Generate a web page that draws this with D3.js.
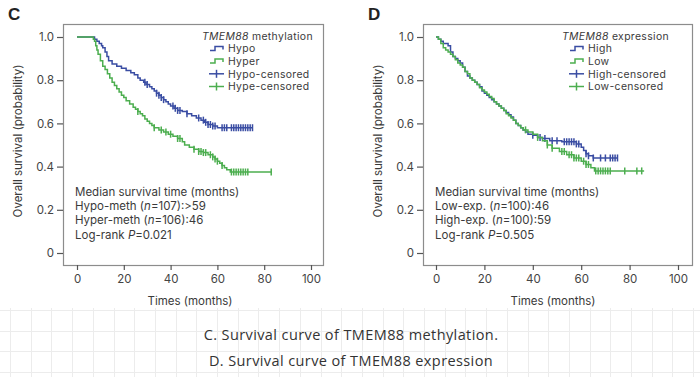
<!DOCTYPE html>
<html><head><meta charset="utf-8">
<script src="https://cdn.jsdelivr.net/npm/d3@7"></script>
<style>
html,body{margin:0;padding:0;background:#fff;}
svg{display:block;}
</style></head>
<body>
<svg id="chart" width="700" height="377"></svg>
<script>
// ---------- DATA ----------
const xTicks = [0, 20, 40, 60, 80, 100];
const yTicks = [0, 0.2, 0.4, 0.6, 0.8, 1.0];
const yTickLabels = ["0", "0.2", "0.4", "0.6", "0.8", "1.0"];

// Panel C: TMEM88 methylation
const hypoTimes = [0, 7.5, 8.5, 9.5, 10.5, 11, 12, 12.8, 13.5, 15, 17, 19, 21, 23, 24.5, 26, 27, 28.5, 29.5, 31, 32, 33, 34, 35, 36, 37, 38, 39, 40, 41.5, 43, 45, 47, 49, 51, 53, 54.5, 56, 58, 60];
const hypoSurv  = [1.0, 0.99, 0.98, 0.97, 0.96, 0.95, 0.93, 0.91, 0.89, 0.875, 0.865, 0.855, 0.845, 0.835, 0.825, 0.81, 0.80, 0.79, 0.78, 0.77, 0.76, 0.75, 0.74, 0.73, 0.72, 0.71, 0.70, 0.69, 0.68, 0.67, 0.66, 0.655, 0.645, 0.635, 0.625, 0.615, 0.605, 0.595, 0.588, 0.58];
const hypoEnd = 75;
const hypoCensored = [29, 30, 34, 35, 36, 37, 41, 42, 43, 44, 47, 52, 54, 55, 56, 57, 58, 59, 62, 63, 64, 66, 67, 68, 69, 70, 71, 72, 73, 74, 75];

const hyperTimes = [0, 7, 7.5, 8, 8.5, 9, 10, 11, 12, 13, 14, 15, 16, 17, 18, 19, 20, 21, 22.5, 24, 25, 26, 27, 28, 29, 30, 31, 32, 33, 35, 37, 39, 41, 43, 45, 46, 48, 50, 52, 54, 56, 58, 59, 60, 61, 62, 63, 64, 65.5];
const hyperSurv  = [1.0, 0.99, 0.98, 0.96, 0.94, 0.92, 0.89, 0.865, 0.85, 0.83, 0.81, 0.79, 0.775, 0.76, 0.745, 0.73, 0.72, 0.705, 0.69, 0.675, 0.665, 0.655, 0.645, 0.635, 0.62, 0.61, 0.60, 0.59, 0.58, 0.57, 0.56, 0.55, 0.54, 0.53, 0.515, 0.50, 0.49, 0.48, 0.47, 0.465, 0.455, 0.445, 0.435, 0.425, 0.415, 0.405, 0.395, 0.385, 0.375];
const hyperEnd = 83;
const hyperCensored = [26, 33, 36, 38, 40, 43, 44, 50, 52, 53, 54, 55, 57, 58, 59, 60, 62, 66, 67, 68, 69, 70, 71, 72, 73, 83];

// Panel D: TMEM88 expression
const highTimes = [0, 1, 2, 3, 5, 6, 7, 8, 9, 10, 11, 12, 13, 14, 15, 16, 17, 18, 19, 20, 21, 22, 23, 24, 25, 26, 27, 28, 29, 30, 31, 32, 33, 34, 35, 36, 37, 38, 40, 42, 44, 47, 52, 58, 60, 61, 62, 63, 65];
const highSurv  = [1.0, 0.99, 0.98, 0.97, 0.96, 0.93, 0.91, 0.90, 0.89, 0.88, 0.86, 0.84, 0.82, 0.81, 0.80, 0.79, 0.78, 0.77, 0.75, 0.74, 0.73, 0.72, 0.71, 0.70, 0.69, 0.68, 0.67, 0.66, 0.65, 0.64, 0.63, 0.615, 0.60, 0.59, 0.58, 0.57, 0.56, 0.55, 0.545, 0.535, 0.53, 0.52, 0.515, 0.505, 0.49, 0.475, 0.46, 0.45, 0.44];
const highEnd = 75;
const highCensored = [40, 43, 45, 48, 50, 53, 54, 55, 56, 57, 58, 59, 62, 63, 65, 68, 70, 72, 73, 74, 75];

const lowTimes = [0, 1, 2, 3, 4, 5, 6, 7, 8, 9, 10, 11, 12, 13, 14, 15, 16, 17, 18, 19, 20, 21, 22, 23, 24, 25, 26, 27, 28, 29, 30, 31, 32, 33, 34, 35, 36, 38, 40, 42, 44, 46, 48, 51, 54, 57, 60, 62, 64, 65.5];
const lowSurv  = [1.0, 0.99, 0.97, 0.95, 0.94, 0.93, 0.92, 0.91, 0.895, 0.88, 0.87, 0.86, 0.84, 0.83, 0.81, 0.80, 0.79, 0.78, 0.765, 0.755, 0.745, 0.735, 0.725, 0.715, 0.70, 0.69, 0.68, 0.67, 0.66, 0.645, 0.635, 0.625, 0.615, 0.60, 0.59, 0.58, 0.57, 0.56, 0.55, 0.535, 0.52, 0.50, 0.485, 0.47, 0.455, 0.44, 0.425, 0.41, 0.395, 0.38];
const lowEnd = 86;
const lowCensored = [37, 42, 46, 48, 52, 53, 55, 56, 57, 58, 59, 61, 62, 63, 66, 67, 68, 69, 70, 71, 72, 78, 83, 85];

const legendC = ["Hypo", "Hyper", "Hypo-censored", "Hype-censored"];
const legendD = ["High", "Low", "High-censored", "Low-censored"];
const notesC = ["Median survival time (months)", "Hypo-meth (|n|=107):>59", "Hyper-meth (|n|=106):46", "Log-rank |P|=0.021"];
const notesD = ["Median survival time (months)", "Low-exp. (|n|=100):46", "High-exp. (|n|=100):59", "Log-rank |P|=0.505"];
const captions = ["C. Survival curve of TMEM88 methylation.", "D. Survival curve of TMEM88 expression"];

// ---------- STYLE ----------
const BLUE = "#3a4da3", GREEN = "#4cae4f";
const FONT = "Inter, Lato, sans-serif";
const TXT = "#3a3a3a";

const svg = d3.select("#chart");

// faint notebook grid in lower area
const grid = svg.append("g").attr("stroke", "#ececec").attr("stroke-width", 1);
d3.range(10, 700, 20.7).forEach(x => grid.append("line").attr("x1", Math.round(x)+0.5).attr("x2", Math.round(x)+0.5).attr("y1", 308).attr("y2", 377));
d3.range(310, 377, 20.6).forEach(y => grid.append("line").attr("x1", 0).attr("x2", 700).attr("y1", Math.round(y)+0.5).attr("y2", Math.round(y)+0.5));

function stepValue(times, surv, t) {
  const i = d3.bisectRight(times, t) - 1;
  return surv[Math.max(0, i)];
}

function panel(opt) {
  const g = svg.append("g");
  const x = d3.scaleLinear().domain([0, 100]).range([opt.x0, opt.x100]);
  const y = d3.scaleLinear().domain([0, 1]).range([253, 37]);

  // frame
  g.append("rect").attr("x", opt.fl + 0.5).attr("y", 24.5).attr("width", opt.fr - opt.fl).attr("height", 265 - 24)
    .attr("fill", "none").attr("stroke", "#8c8c8c").attr("stroke-width", 1.2);

  // y axis
  const ya = g.append("g").attr("transform", `translate(${opt.fl},0)`)
    .call(d3.axisLeft(y).tickValues(yTicks).tickFormat((d, i) => yTickLabels[i]).tickSize(6).tickPadding(3));
  ya.select(".domain").remove();
  ya.selectAll("line").attr("stroke", "#555").attr("stroke-width", 1.2);
  ya.selectAll("text").attr("font-family", FONT).attr("font-size", 11.5).attr("fill", "#444");

  // x axis
  const xa = g.append("g").attr("transform", `translate(0,265)`)
    .call(d3.axisBottom(x).tickValues(xTicks).tickSize(5).tickPadding(5));
  xa.select(".domain").remove();
  xa.selectAll("line").attr("stroke", "#555").attr("stroke-width", 1.2);
  xa.selectAll("text").attr("font-family", FONT).attr("font-size", 11.5).attr("fill", "#444");

  // axis titles
  g.append("text").attr("x", (opt.x0 + opt.x100) / 2 - 4).attr("y", 305).attr("text-anchor", "middle")
    .attr("font-family", FONT).attr("font-size", 11.5).attr("fill", TXT).text("Times (months)");
  g.append("text").attr("transform", `translate(${opt.fl - 41},141) rotate(-90)`).attr("text-anchor", "middle")
    .attr("font-family", FONT).attr("font-size", 11.5).attr("fill", TXT).text("Overall survival (probability)");

  // panel letter
  g.append("text").attr("x", opt.fl - 55).attr("y", 20).attr("font-family", "'Liberation Sans', Arial, sans-serif")
    .attr("font-weight", "bold").attr("font-size", 17).attr("fill", "#222").text(opt.letter);

  // curves
  const line = d3.line().x(d => x(d[0])).y(d => y(d[1])).curve(d3.curveStepAfter);
  opt.series.forEach(s => {
    const pts = s.times.map((t, i) => [t, s.surv[i]]);
    pts.push([s.end, s.surv[s.surv.length - 1]]);
    g.append("path").datum(pts).attr("d", line).attr("fill", "none").attr("stroke", s.color).attr("stroke-width", 1.5);
    g.append("g").selectAll("line").data(s.censored).join("line")
      .attr("x1", d => x(d)).attr("x2", d => x(d))
      .attr("y1", d => y(stepValue(s.times, s.surv, d)) - 3.5)
      .attr("y2", d => y(stepValue(s.times, s.surv, d)) + 3.5)
      .attr("stroke", s.color).attr("stroke-width", 1.5);
  });

  // legend
  const LFS = 10.4, LSP = 12.7;
  const lg = g.append("g");
  const lt = lg.append("text").attr("x", opt.lx - 8).attr("y", 39.5).attr("font-family", FONT).attr("font-size", LFS)
    .attr("letter-spacing", 0.35).attr("fill", TXT);
  lt.append("tspan").attr("font-style", "italic").text("TMEM88");
  lt.append("tspan").text(" " + opt.legendTitle);
  opt.legend.forEach((lab, i) => {
    const base = 39.5 + (i + 1) * LSP;
    const yy = base - 3.8;
    const col = i % 2 === 0 ? BLUE : GREEN;
    const gx = opt.lx;
    if (i < 2) {
      lg.append("path").attr("d", `M${gx},${yy + 2}H${gx + 5}V${yy - 2}H${gx + 13}V${yy + 1}`)
        .attr("fill", "none").attr("stroke", col).attr("stroke-width", 1.5);
    } else {
      lg.append("line").attr("x1", gx - 1).attr("x2", gx + 14).attr("y1", yy).attr("y2", yy).attr("stroke", col).attr("stroke-width", 1.5);
      lg.append("line").attr("x1", gx + 6.5).attr("x2", gx + 6.5).attr("y1", yy - 4).attr("y2", yy + 4).attr("stroke", col).attr("stroke-width", 1.5);
    }
    lg.append("text").attr("x", gx + 18).attr("y", base).attr("font-family", FONT).attr("font-size", LFS)
      .attr("letter-spacing", 0.35).attr("fill", TXT).text(lab);
  });

  // notes
  opt.notes.forEach((n, i) => {
    const t = g.append("text").attr("x", opt.fl + 12).attr("y", 196 + i * 14.2).attr("font-family", FONT).attr("font-size", 11.5).attr("fill", TXT);
    n.split("|").forEach((part, k) => {
      t.append("tspan").attr("font-style", k % 2 === 1 ? "italic" : null).text(part);
    });
  });
}

panel({
  letter: "C", fl: 63, fr: 323, x0: 77, x100: 311, lx: 210, legendTitle: "methylation",
  legend: legendC, notes: notesC,
  series: [
    {times: hypoTimes, surv: hypoSurv, end: hypoEnd, censored: hypoCensored, color: BLUE},
    {times: hyperTimes, surv: hyperSurv, end: hyperEnd, censored: hyperCensored, color: GREEN}
  ]
});
panel({
  letter: "D", fl: 423, fr: 692, x0: 436, x100: 678, lx: 570, legendTitle: "expression",
  legend: legendD, notes: notesD,
  series: [
    {times: highTimes, surv: highSurv, end: highEnd, censored: highCensored, color: BLUE},
    {times: lowTimes, surv: lowSurv, end: lowEnd, censored: lowCensored, color: GREEN}
  ]
});

// captions
captions.forEach((c, i) => {
  svg.append("text").attr("x", 351).attr("y", 340 + i * 25.5).attr("text-anchor", "middle")
    .attr("font-family", "'Open Sans', sans-serif").attr("font-size", 14.5).attr("letter-spacing", 0.4)
    .attr("fill", "#333").text(c);
});
</script>
</body></html>
